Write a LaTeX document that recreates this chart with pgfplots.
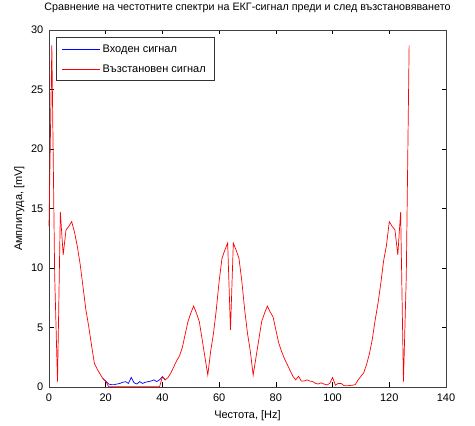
\documentclass[border=0pt]{standalone}
\usepackage{pgfplots}
\usepackage{pgfplotstable}
\pgfplotsset{compat=1.18}
\usepackage{fontspec}
\setmainfont{Liberation Sans}
\pgfplotstableread{
f in
19 0.7
20 0.5
21 0.25
22 0.2
23 0.2
24 0.25
25 0.3
26 0.4
27 0.45
28 0.3
29 0.8
30 0.35
31 0.25
32 0.45
33 0.3
34 0.4
35 0.45
36 0.5
37 0.6
38 0.45
39 0.6
40 0.87
41 0.6
}\inspec
\pgfplotstableread{
f out
0 13.5
1 28.7
2 9.4
3 0.45
4 14.7
5 11.1
6 13.2
7 13.5
8 13.9
9 13.0
10 11.8
11 10.3
12 8.4
13 6.5
14 5.1
15 3.5
16 2.0
17 1.5
18 1.1
19 0.7
20 0.5
21 0.02
22 0.02
23 0.02
24 0.02
25 0.02
26 0.02
27 0.02
28 0.02
29 0.02
30 0.02
31 0.02
32 0.02
33 0.02
34 0.02
35 0.02
36 0.02
37 0.02
38 0.02
39 0.02
40 0.87
41 0.6
42 0.8
43 1.2
44 1.7
45 2.2
46 2.6
47 3.3
48 4.4
49 5.5
50 6.2
51 6.8
52 6.2
53 5.5
54 4.0
55 2.5
56 1.0
57 3.0
58 4.5
59 6.5
60 8.9
61 10.8
62 11.5
63 12.1
64 4.8
65 12.1
66 11.5
67 10.8
68 8.9
69 6.5
70 4.5
71 3.0
72 1.0
73 2.5
74 4.0
75 5.5
76 6.2
77 6.8
78 6.3
79 5.9
80 4.8
81 3.7
82 3.0
83 2.4
84 1.9
85 1.4
86 0.9
87 0.6
88 0.9
89 0.5
90 0.5
91 0.6
92 0.5
93 0.45
94 0.3
95 0.25
96 0.35
97 0.25
98 0.17
99 0.3
100 0.8
101 0.15
102 0.3
103 0.3
104 0.12
105 0.1
106 0.12
107 0.15
108 0.2
109 0.6
110 0.9
111 1.2
112 1.9
113 2.8
114 4.0
115 5.6
116 7.0
117 8.7
118 10.6
119 11.9
120 13.9
121 13.5
122 13.2
123 11.1
124 14.7
125 0.45
126 9.4
127 28.7
}\outspec
\definecolor{mblue}{RGB}{0,0,255}
\definecolor{mred}{RGB}{255,0,0}
\begin{document}
\begin{tikzpicture}
\path (-49bp,-39bp) rectangle (426bp,387bp);
\begin{axis}[
  at={(0,0)}, anchor=south west,
  scale only axis, width=397bp, height=357bp,
  xmin=0, xmax=140, ymin=0, ymax=30,
  xtick={0,20,...,140}, ytick={0,5,...,30},
  tick align=inside, major tick length=4.5bp,
  tick style={black, line width=0.5bp},
  axis line style={black!75, line width=0.7bp},
  clip=false,
  font=\fontsize{11bp}{13bp}\selectfont,
  /pgf/number format/assume math mode=true,
  xticklabel style={anchor=base, yshift=-14.7bp, font=\fontsize{11bp}{13bp}\selectfont},
  yticklabel style={anchor=east, inner xsep=0pt, xshift=-5.5bp, font=\fontsize{11bp}{13bp}\selectfont},
  title={Сравнение на честотните спектри на ЕКГ-сигнал преди и след възстановяването},
  title style={at={(axis description cs:0.5,1.039)}, anchor=base, inner sep=0pt, font=\fontsize{10.75bp}{13bp}\selectfont},
  xlabel={Честота, [Hz]},
  xlabel style={at={(axis description cs:0.5,-0.0896)}, anchor=base, inner sep=0pt},
  ylabel={Амплитуда, [mV]},
  ylabel style={at={(axis description cs:-0.068,0.5)}, anchor=base, inner sep=0pt},
  legend style={at={(0.017,0.9796)}, anchor=north west, draw=black!80, fill=white,
    font=\fontsize{11bp}{13bp}\selectfont, inner xsep=6bp, inner ysep=5bp, row sep=7bp},
  legend cell align=left,
  legend image code/.code={\draw[#1] (0bp,0bp) -- (38bp,0bp);},
]
\addplot[color=mblue, line width=0.7bp] table[x=f, y=in] {\inspec};
\addlegendentry{Входен сигнал}
\addplot[color=mred, line width=0.7bp] table[x=f, y=out] {\outspec};
\addlegendentry{Възстановен сигнал}
\end{axis}
\end{tikzpicture}
\end{document}
